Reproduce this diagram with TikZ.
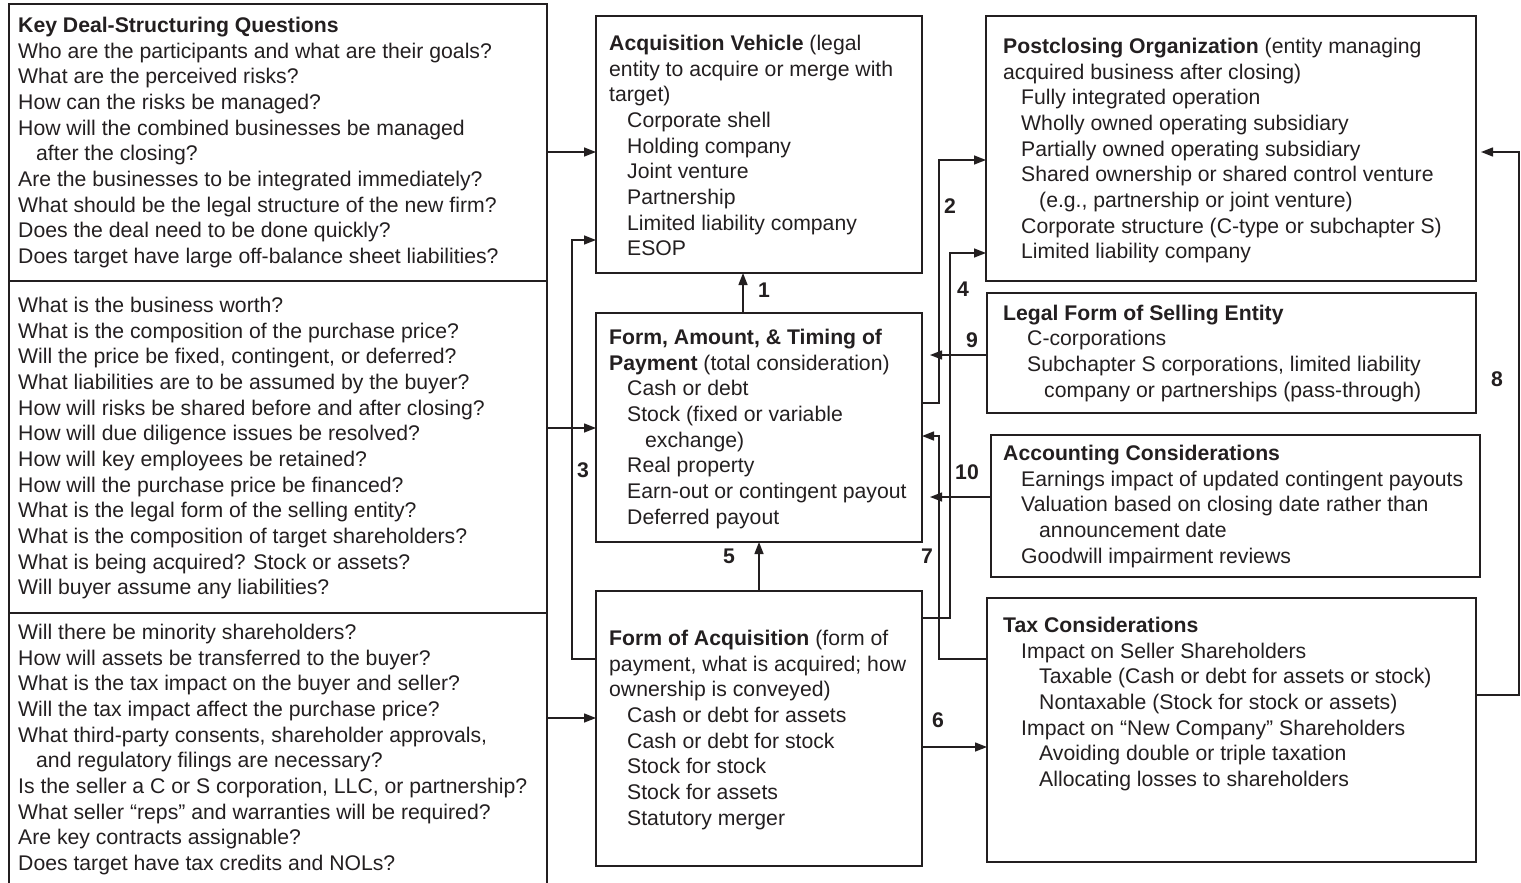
\documentclass[tikz,border=0pt]{standalone}
\usepackage{fontspec}
\setmainfont{Liberation Sans}
\usetikzlibrary{arrows.meta}
\definecolor{ink}{RGB}{35,31,32}
\newcommand\indA{\hspace*{18pt}}
\newcommand\indB{\hspace*{36pt}}
\newcommand\indC{\hspace*{24pt}}
\newcommand\indD{\hspace*{41pt}}
\begin{document}
\begin{tikzpicture}[x=1pt,y=-1pt,
  box/.style={draw=ink, line width=1.4pt, rectangle, inner sep=0pt, outer sep=0pt},
  % base anchor of a multi-line node sits on its last baseline
  txt/.style={anchor=base west, inner sep=0pt, align=left, text=ink,
    font=\fontsize{21.2}{25.65}\selectfont},
  wire/.style={draw=ink, line width=1.4pt},
  arr/.style={wire, -{Triangle[length=12pt,width=9pt]}},
  num/.style={text=ink, inner sep=0pt, font=\fontsize{21.2}{22}\selectfont\bfseries}]
\useasboundingbox (0,0) rectangle (1521,883);

% question column
\node[box, minimum width=538pt, minimum height=277pt] (q1) at (278,142.5) {};
\node[box, minimum width=538pt, minimum height=332pt] (q2) at (278,447) {};
\node[box, minimum width=538pt, minimum height=282pt] (q3) at (278,754) {};

% central boxes
\node[box, minimum width=326pt, minimum height=257pt] (acq)  at (759,144.5) {};
\node[box, minimum width=326pt, minimum height=229pt] (pay)  at (759,427.5) {};
\node[box, minimum width=326pt, minimum height=275pt] (form) at (759,728.5) {};

% right boxes
\node[box, minimum width=490pt, minimum height=265pt] (post)  at (1231,148.5) {};
\node[box, minimum width=489pt, minimum height=120pt] (legal) at (1231.5,353) {};
\node[box, minimum width=489pt, minimum height=142pt] (acc)   at (1235.5,506) {};
\node[box, minimum width=489pt, minimum height=264pt] (tax)   at (1231.5,730) {};

% question texts
\node[txt] (tq1) at (18,263.35) {\textbf{Key Deal-Structuring Questions}\\
Who are the participants and what are their goals?\\
What are the perceived risks?\\
How can the risks be managed?\\
How will the combined businesses be managed\\
\indA after the closing?\\
Are the businesses to be integrated immediately?\\
What should be the legal structure of the new firm?\\
Does the deal need to be done quickly?\\
Does target have large off-balance sheet liabilities?};

\node[txt] (tq2) at (18,594.65) {What is the business worth?\\
What is the composition of the purchase price?\\
Will the price be fixed, contingent, or deferred?\\
What liabilities are to be assumed by the buyer?\\
How will risks be shared before and after closing?\\
How will due diligence issues be resolved?\\
How will key employees be retained?\\
How will the purchase price be financed?\\
What is the legal form of the selling entity?\\
What is the composition of target shareholders?\\
What is being acquired? Stock or assets?\\
Will buyer assume any liabilities?};

\node[txt] (tq3) at (18,870.35) {Will there be minority shareholders?\\
How will assets be transferred to the buyer?\\
What is the tax impact on the buyer and seller?\\
Will the tax impact affect the purchase price?\\
What third-party consents, shareholder approvals,\\
\indA and regulatory filings are necessary?\\
Is the seller a C or S corporation, LLC, or partnership?\\
What seller “reps” and warranties will be required?\\
Are key contracts assignable?\\
Does target have tax credits and NOLs?};

% box texts
\node[txt] (tacq) at (609,255.7) {\textbf{Acquisition Vehicle} (legal\\
entity to acquire or merge with\\
target)\\
\indA Corporate shell\\
\indA Holding company\\
\indA Joint venture\\
\indA Partnership\\
\indA Limited liability company\\
\indA ESOP};

\node[txt] (tpay) at (609,524.05) {\textbf{Form, Amount, \& Timing of}\\
\textbf{Payment} (total consideration)\\
\indA Cash or debt\\
\indA Stock (fixed or variable\\
\indB exchange)\\
\indA Real property\\
\indA Earn-out or contingent payout\\
\indA Deferred payout};

\node[txt] (tform) at (609,825.05) {\textbf{Form of Acquisition} (form of\\
payment, what is acquired; how\\
ownership is conveyed)\\
\indA Cash or debt for assets\\
\indA Cash or debt for stock\\
\indA Stock for stock\\
\indA Stock for assets\\
\indA Statutory merger};

\node[txt] (tpost) at (1003,258.7) {\textbf{Postclosing Organization} (entity managing\\
acquired business after closing)\\
\indA Fully integrated operation\\
\indA Wholly owned operating subsidiary\\
\indA Partially owned operating subsidiary\\
\indA Shared ownership or shared control venture\\
\indB (e.g., partnership or joint venture)\\
\indA Corporate structure (C-type or subchapter S)\\
\indA Limited liability company};

\node[txt] (tlegal) at (1003,397) {\textbf{Legal Form of Selling Entity}\\
\indC C-corporations\\
\indC Subchapter S corporations, limited liability\\
\indD company or partnerships (pass-through)};

\node[txt] (tacc) at (1003,563.1) {\textbf{Accounting Considerations}\\
\indA Earnings impact of updated contingent payouts\\
\indA Valuation based on closing date rather than\\
\indB announcement date\\
\indA Goodwill impairment reviews};

\node[txt] (ttax) at (1003,786.4) {\textbf{Tax Considerations}\\
\indA Impact on Seller Shareholders\\
\indB Taxable (Cash or debt for assets or stock)\\
\indB Nontaxable (Stock for stock or assets)\\
\indA Impact on “New Company” Shareholders\\
\indB Avoiding double or triple taxation\\
\indB Allocating losses to shareholders};

% bend points of the connectors
\coordinate (c1) at (743,0);
\coordinate (b2) at (939,160);
\coordinate (b3) at (572,240);
\coordinate (b4) at (950,253);
\coordinate (b7) at (939,436);
\coordinate (b8) at (1519,152);

% questions feed the three central boxes
\draw[arr] (q1.east |- 0,152) -- (acq.west |- 0,152);
\draw[arr] (q2.east |- 0,428) -- (pay.west |- 0,428);
\draw[arr] (q3.east |- 0,718) -- (form.west |- 0,718);

% numbered links
\draw[arr] (pay.north -| c1) -- (acq.south -| c1);
\draw[arr] (pay.east |- 0,403) -| (b2) -- (post.west |- b2);
\draw[arr] (form.west |- 0,659) -| (b3) -- (acq.west |- b3);
\draw[arr] (form.east |- 0,618) -| (b4) -- (post.west |- b4);
\draw[arr] (form.north) -- (pay.south);
\draw[arr] (form.east |- 0,747) -- (tax.west |- 0,747);
\draw[arr] (tax.west |- 0,659) -| (b7) -- (pay.east |- b7);
\draw[arr, shorten >=5pt] (tax.east |- 0,695) -| (b8) -- (post.east |- b8);
\draw[arr, shorten >=8pt] (legal.west |- 0,355) -- (pay.east |- 0,355);
\draw[arr, shorten >=8pt] (acc.west |- 0,497) -- (pay.east |- 0,497);

% link numbers
\node[num] (n1) at (764,290) {1};
\node[num] (n2) at (950,206) {2};
\node[num] (n3) at (583,470) {3};
\node[num] (n4) at (963,289) {4};
\node[num] (n5) at (729,556) {5};
\node[num] (n6) at (938,720) {6};
\node[num] (n7) at (927,556) {7};
\node[num] (n8) at (1497,379) {8};
\node[num] (n9) at (972,340) {9};
\node[num] (n10) at (967,472) {10};
\end{tikzpicture}
\end{document}
